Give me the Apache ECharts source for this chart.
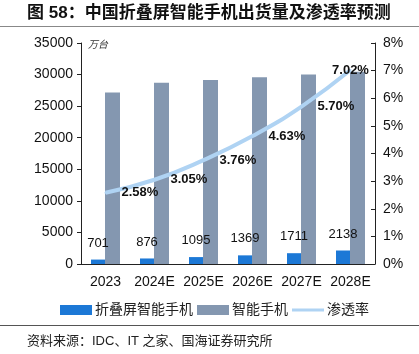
<!DOCTYPE html>
<html><head><meta charset="utf-8">
<script src="https://cdn.jsdelivr.net/npm/echarts@6/dist/echarts.min.js"></script>
<style>html,body{margin:0;padding:0;background:#fff}#c{width:419px;height:354px}</style>
</head><body><div id="c"></div>
<script>
const categories = ['2023','2024E','2025E','2026E','2027E','2028E'];
const foldable = [701, 876, 1095, 1369, 1711, 2138];
const smartphones = [27171, 28721, 29122, 29568, 30018, 30456];
const penetration = [2.58, 3.05, 3.76, 4.63, 5.70, 7.02];
const leftTicks = [0, 5000, 10000, 15000, 20000, 25000, 30000, 35000];
const rightTicks = ['0%','1%','2%','3%','4%','5%','6%','7%','8%'];

const FF = '"Liberation Sans", Arial, "Noto Sans CJK SC", sans-serif';
const LINE_C = '#AFD3F3';
const chart = echarts.init(document.getElementById('c'), null, {renderer:'canvas'});
chart.setOption({
  animation: false,
  backgroundColor: '#fff',
  textStyle: {fontFamily: FF},
  grid: {left: 81, right: 44, top: 43, bottom: 90},
  graphic: [
    {type:'text', left: 27, top: 5, style:{text:'图 58：中国折叠屏智能手机出货量及渗透率预测', font:'bold 17px ' + FF, fill:'#111'}},
    {type:'rect', shape:{x:0, y:26, width:419, height:1}, style:{fill:'#888'}},
    {type:'text', left: 88, top: 39, style:{text:'万台', font:'italic 10px "Noto Sans CJK SC", sans-serif', fill:'#333'}},
    {type:'rect', shape:{x:0, y:325, width:419, height:1}, style:{fill:'#555'}},
    {type:'text', left: 27, top: 335, style:{text:'资料来源：IDC、IT 之家、国海证券研究所', font:'13px ' + FF, fill:'#222'}}
  ],
  legend: {
    left: 55, top: 298, itemWidth: 32, itemHeight: 10, itemGap: 4,
    textStyle: {fontSize: 14, color: '#222', padding:[0,0,0,-2]},
    data: [
      {name:'折叠屏智能手机', icon:'rect'},
      {name:'智能手机', icon:'rect'},
      {name:'渗透率', icon:'path://M0,0 L0.01,0 L0.01,0.01 Z M0,3.5 L32,3.5 L32,6.5 L0,6.5 Z M32,10 L31.99,10 L31.99,9.99 Z',
       itemStyle:{color:LINE_C, opacity:1, borderWidth:0}}
    ]
  },
  xAxis: {
    type: 'category', data: categories,
    axisLine: {lineStyle:{color:'#222'}},
    axisTick: {inside: true, length: 5, lineStyle:{color:'#222'}},
    axisLabel: {fontSize: 14, color: '#111', margin: 11, interval: 0}
  },
  yAxis: [
    {type:'value', min: leftTicks[0], max: leftTicks[leftTicks.length-1], interval: 5000,
     axisLine:{show:true, lineStyle:{color:'#222'}},
     axisTick:{show:true, length:4, lineStyle:{color:'#222'}},
     splitLine:{show:false},
     axisLabel:{fontSize:14, color:'#111', margin:8, formatter:(v)=>String(v)}},
    {type:'value', min:0, max:8, interval:1,
     axisLine:{show:true, lineStyle:{color:'#222'}},
     axisTick:{show:true, inside:true, length:4, lineStyle:{color:'#222'}},
     splitLine:{show:false},
     axisLabel:{fontSize:14, color:'#111', margin:8, formatter:(v)=>rightTicks[v]}}
  ],
  series: [
    {name:'折叠屏智能手机', type:'bar', data: foldable, barWidth: 14, barGap: '0%',
     itemStyle:{color:'#1C78D6'},
     label:{show:true, position:'top', distance:10, fontSize:13, color:'#111'}},
    {name:'智能手机', type:'bar', data: smartphones, barWidth: 15, barGap: '0%',
     itemStyle:{color:'#8497B0'}},
    {name:'渗透率', type:'line', yAxisIndex:1, smooth:true, showSymbol:true, symbol:'circle', symbolSize:2,
     data: penetration.map((v,i)=> i===penetration.length-1 ? {value:v, label:{position:'inside'}} : v),
     lineStyle:{color:LINE_C, width:4}, itemStyle:{color:LINE_C, borderWidth:0},
     label:{show:true, position:'right', distance:15, fontSize:13, fontWeight:'bold', color:'#111',
       formatter:(p)=>p.value.toFixed(2)+'%'},
     labelLayout:{hideOverlap:false},
     z: 5}
  ]
});
</script></body></html>
